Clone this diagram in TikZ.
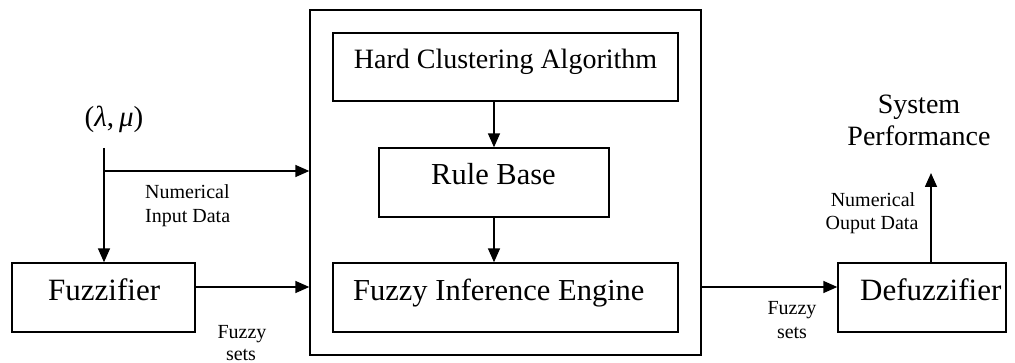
\documentclass[tikz,border=0pt]{standalone}
\usepackage{fontspec}
\setmainfont{Liberation Serif}
\usetikzlibrary{arrows.meta}
\tikzset{
  box/.style={draw, line width=1.4pt, inner sep=0pt},
  arr/.style={line width=1.6pt, -{Triangle[length=14pt,width=12pt]}},
  big/.style={font=\fontsize{30.5}{32}\selectfont, inner sep=0pt},
  bigger/.style={font=\fontsize{31}{32}\selectfont, inner sep=0pt},
  small/.style={font=\fontsize{20}{24}\selectfont, inner sep=0pt},
  mid/.style={font=\fontsize{28}{32}\selectfont, inner sep=0pt},
}
\begin{document}
\begin{tikzpicture}[x=1pt,y=-1pt]
\useasboundingbox (0,0) rectangle (1015,363);
% boxes
\node[box, minimum width=391pt, minimum height=345pt] (outer) at (505.5,182.5) {};
\node[box, minimum width=345pt, minimum height=68pt] (hca) at (505.5,67) {};
\node[box, minimum width=230pt, minimum height=69pt] (rb) at (494,182.5) {};
\node[box, minimum width=345pt, minimum height=69pt] (fie) at (505.5,297.5) {};
\node[box, minimum width=183pt, minimum height=69pt] (fuz) at (103.5,297.5) {};
\node[box, minimum width=168pt, minimum height=69pt] (defuz) at (922,297.5) {};
% box texts
\node[mid, anchor=base] (thca) at (505.5,69) {Hard Clustering Algorithm};
\node[big, anchor=base] (trb) at (493.5,185) {Rule Base};
\node[big, anchor=base west] (tfie) at (353,301) {Fuzzy Inference Engine};
\node[bigger, anchor=base west] (tfuz) at (48,301) {Fuzzifier};
\node[bigger, anchor=base west] (tdefuz) at (860,301) {Defuzzifier};
% other labels
\node[mid, anchor=base] (sys) at (919,114) {System};
\node[mid, anchor=base] (perf) at (919,146) {Performance};
\node[font=\fontsize{29}{32}\selectfont, inner sep=0pt, anchor=base] (lm) at (114,127) {(\textit{λ},\,\textit{μ})};
\node[small, anchor=base west] (nid1) at (145,199) {Numerical};
\node[small, anchor=base west] (nid2) at (145,223) {Input Data};
\node[small, anchor=base] (fs1) at (242,338) {Fuzzy};
\node[small, anchor=base] (fs2) at (241,360) {sets};
\node[small, anchor=base] (fr1) at (792,315) {Fuzzy};
\node[small, anchor=base] (fr2) at (792,338) {sets};
\node[small, anchor=base] (nod1) at (873,207) {Numerical};
\node[small, anchor=base] (nod2) at (872,230) {Ouput Data};
% coordinates
\coordinate (top) at (104,148);
\coordinate (br) at (104,171);
\coordinate (ay) at (0,287);
\coordinate (sp) at (931,173);
% connectors
\draw[arr] (top) -- (top |- fuz.north);
\draw[arr] (br) -- (br -| outer.west);
\draw[arr] (fuz.east |- ay) -- (outer.west |- ay);
\draw[arr] (outer.east |- ay) -- (defuz.west |- ay);
\draw[arr] (sp |- defuz.north) -- (sp);
\draw[arr] (rb.north |- hca.south) -- (rb.north);
\draw[arr] (rb.south) -- (rb.south |- fie.north);
\end{tikzpicture}
\end{document}
